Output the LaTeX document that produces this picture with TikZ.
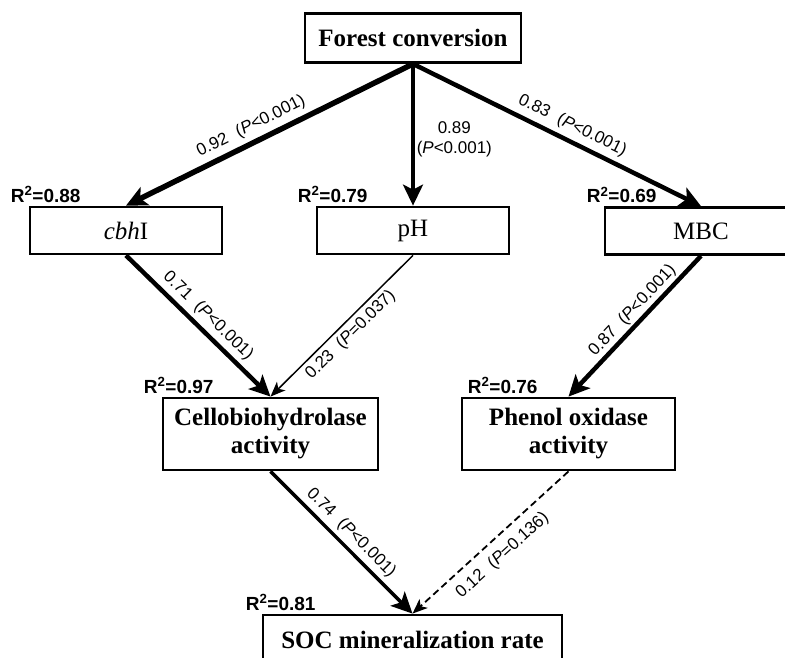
\documentclass[tikz,border=0pt]{standalone}
\usepackage{fontspec}
\setmainfont{Liberation Serif}
\setsansfont{Liberation Sans}
\usetikzlibrary{arrows.meta,calc}
\begin{document}
\begin{tikzpicture}[x=1pt,y=-1pt,
  box/.style={draw, line width=2.8pt, minimum width=192pt, minimum height=47pt, inner sep=0pt, align=center, font=\fontsize{25}{28}\selectfont},
  boldbox/.style={box, font=\fontsize{25}{28}\selectfont\bfseries},
  rlab/.style={anchor=south west, inner sep=0pt, font=\sffamily\bfseries\fontsize{19}{19}\selectfont},
  elab/.style={font=\sffamily\fontsize{17}{20}\selectfont, inner sep=2pt},
  bigtip/.style={-{Stealth[length=21pt,width=20pt,inset=5pt]}},
  smalltip/.style={-{Stealth[length=15pt,width=12pt,inset=4pt]}},
]
\useasboundingbox (0,0) rectangle (785,657);
% boxes
\node[boldbox, minimum width=216pt, minimum height=49pt] (fc) at (413,38) {Forest conversion};
\node[box] (cbh) at (126,230.5) {\textit{cbh}I};
\node[box] (ph) at (413,230.5) {pH};
\node[box] (mbc) at (701,231) {MBC};
\node[boldbox, minimum width=215pt, minimum height=72pt] (cel) at (270.5,434) {Cellobiohydrolase\\activity};
\node[boldbox, minimum width=213pt, minimum height=72pt] (phe) at (568.5,434) {Phenol oxidase\\activity};
\node[boldbox, minimum width=299pt, minimum height=50pt] (soc) at (412.5,640) {SOC mineralization rate};
% R^2 labels
\node[rlab] (r1) at ($(cbh.north west)+(-18,-3)$) {R\textsuperscript{2}=0.88};
\node[rlab] (r2) at ($(ph.north west)+(-18,-3)$) {R\textsuperscript{2}=0.79};
\node[rlab] (r3) at ($(mbc.north west)+(-17,-3)$) {R\textsuperscript{2}=0.69};
\node[rlab] (r4) at ($(cel.north west)+(-18,-3)$) {R\textsuperscript{2}=0.97};
\node[rlab] (r5) at ($(phe.north west)+(7,-3)$) {R\textsuperscript{2}=0.76};
\node[rlab] (r6) at ($(soc.north west)+(-16,-3)$) {R\textsuperscript{2}=0.81};
% connectors
\draw[bigtip, line width=5.5pt] (fc.south) -- node[elab, sloped, above=3pt, pos=0.54] {0.92\hspace{0.6em}(\textit{P}<0.001)} (cbh.north);
\draw[bigtip, line width=3.5pt] (fc.south) -- node[elab, right, align=center, pos=0.53] {0.89\\(\textit{P}<0.001)} (ph.north);
\draw[bigtip, line width=4.5pt] (fc.south) -- node[elab, sloped, above=3pt, pos=0.53] {0.83\hspace{0.6em}(\textit{P}<0.001)} (mbc.north);
\draw[bigtip, line width=4.5pt] (cbh.south) -- node[elab, sloped, above=2pt] {0.71\hspace{0.6em}(\textit{P}<0.001)} (cel.north);
\draw[smalltip, line width=1.5pt] (ph.south) -- node[elab, sloped, below=2pt] {0.23\hspace{0.6em}(\textit{P}=0.037)} (cel.north);
\draw[bigtip, line width=4.5pt] (mbc.south) -- node[elab, sloped, above=0pt, pos=0.45] {0.87\hspace{0.6em}(\textit{P}<0.001)} (phe.north);
\draw[bigtip, line width=3.5pt] (cel.south) -- node[elab, sloped, above=2pt] {0.74\hspace{0.6em}(\textit{P}<0.001)} (soc.north);
\draw[smalltip, line width=1.8pt, dash pattern=on 7pt off 4pt] (phe.south) -- node[elab, sloped, below=7pt] {0.12\hspace{0.6em}(\textit{P}=0.136)} (soc.north);
\end{tikzpicture}
\end{document}
